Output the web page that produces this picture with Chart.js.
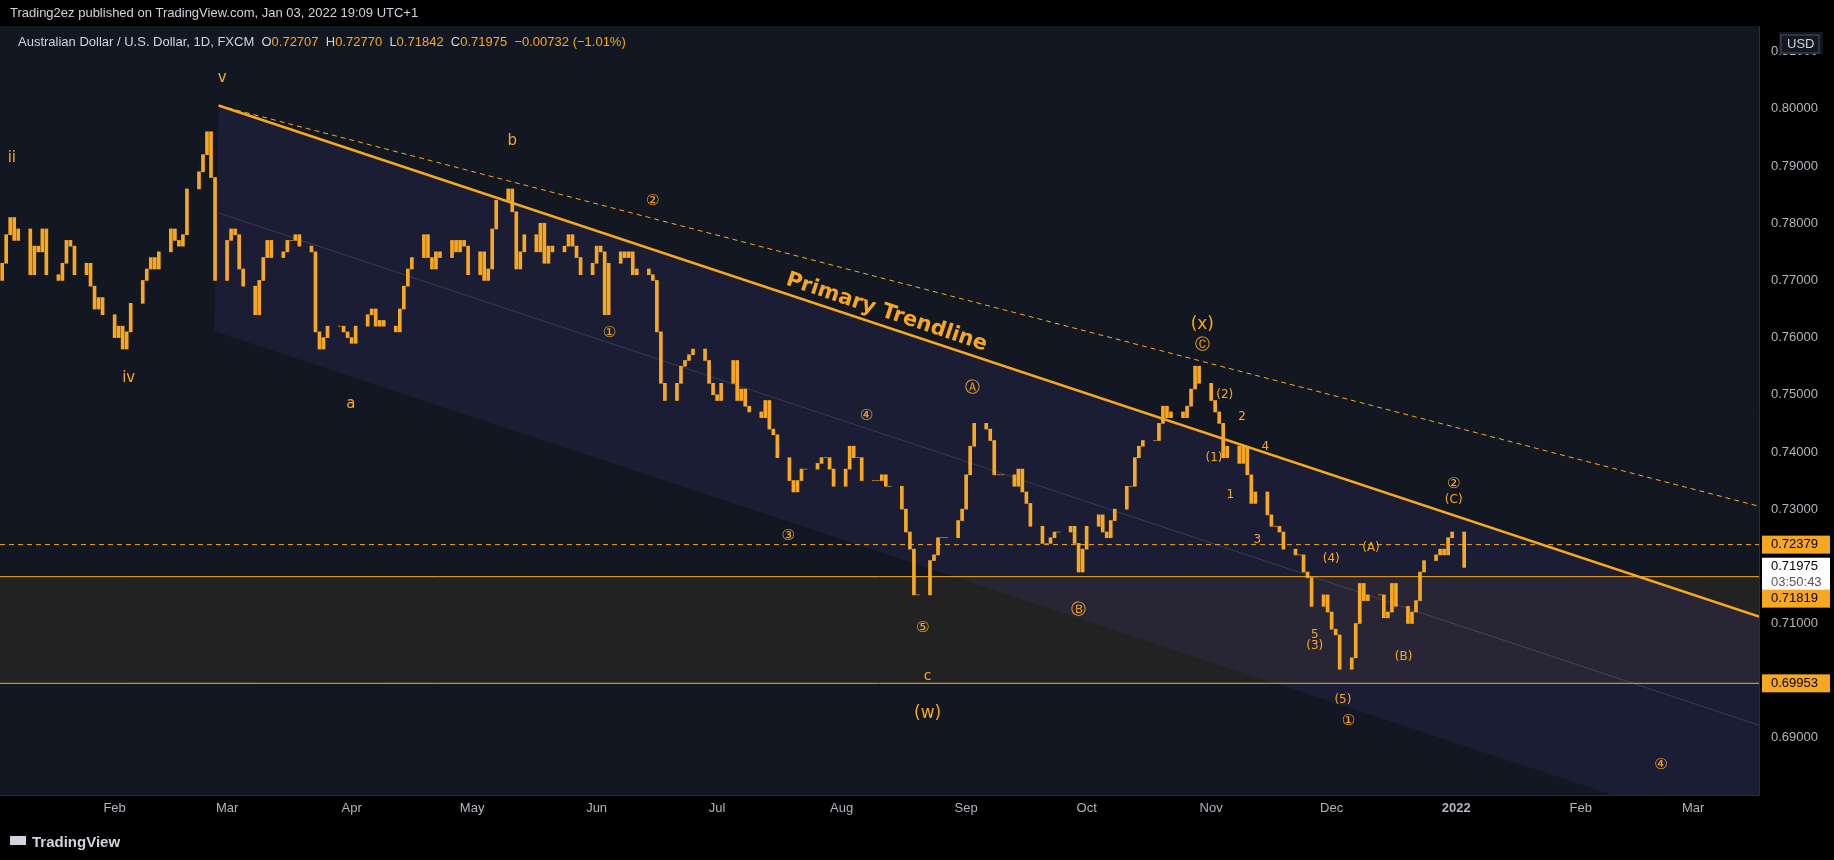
<!DOCTYPE html>
<html>
<head>
<meta charset="utf-8">
<script src="https://cdn.jsdelivr.net/npm/chart.js@4.4.1/dist/chart.umd.min.js"></script>
<style>
  html,body{margin:0;padding:0;background:#000;overflow:hidden}
  canvas{display:block}
</style>
</head>
<body>
<canvas id="myChart" width="1834" height="860"></canvas>
<script>
//---------- data: AUD/USD daily closes, Jan 4 2021 .. Jan 3 2022 (one row per week) ----------
const closes = [
  0.773,0.778,0.781,0.777,0.779, 0.771,0.776,0.775,0.779,0.771, 0.770,0.773,0.777,0.776,0.771,
  0.773,0.769,0.765,0.767,0.764, 0.760,0.762,0.758,0.761,0.766, 0.770,0.772,0.774,0.772,0.775,
  0.779,0.777,0.776,0.778,0.786, 0.789,0.792,0.796,0.788,0.770, 0.777,0.779,0.778,0.772,0.769,
  0.764,0.770,0.774,0.777,0.774, 0.775,0.777,0.777,0.778,0.776, 0.775,0.761,0.758,0.760,0.762,
  0.762,0.761,0.760,0.759,0.762, 0.764,0.765,0.762,0.763,0.762, 0.761,0.765,0.769,0.772,0.774,
  0.778,0.774,0.772,0.775,0.774, 0.777,0.775,0.777,0.776,0.771, 0.775,0.770,0.772,0.779,0.784,
  0.786,0.782,0.772,0.775,0.778, 0.775,0.780,0.773,0.776,0.775, 0.776,0.778,0.776,0.774,0.771,
  0.773,0.776,0.775,0.764,0.773, 0.775,0.774,0.775,0.771,0.772, 0.771,0.770,0.761,0.752,0.749,
  0.752,0.755,0.756,0.757,0.758, 0.756,0.752,0.750,0.749,0.752, 0.756,0.749,0.751,0.748,0.747,
  0.746,0.749,0.744,0.743,0.739, 0.735,0.733,0.735,0.737,0.737, 0.738,0.739,0.739,0.737,0.734,
  0.737,0.741,0.739,0.739,0.735, 0.735,0.735,0.736,0.734,0.734, 0.730,0.726,0.723,0.715,0.715,
  0.721,0.722,0.725,0.725,0.725, 0.728,0.730,0.736,0.741,0.745, 0.744,0.742,0.736,0.736,0.736,
  0.734,0.737,0.733,0.731,0.727, 0.724,0.724,0.725,0.726,0.726, 0.727,0.724,0.719,0.723,0.727,
  0.729,0.726,0.725,0.728,0.730, 0.734,0.734,0.739,0.741,0.742, 0.742,0.745,0.748,0.746,0.747,
  0.746,0.748,0.751,0.755,0.752, 0.749,0.747,0.745,0.739,0.741, 0.738,0.741,0.736,0.731,0.733,
  0.729,0.727,0.727,0.726,0.723, 0.722,0.722,0.719,0.718,0.713, 0.715,0.712,0.709,0.708,0.702,
  0.704,0.710,0.717,0.714,0.715, 0.715,0.711,0.712,0.717,0.713, 0.710,0.712,0.714,0.719,0.721,
  0.722,0.723,0.722,0.725,0.726, 0.7198
];
const firstOpen = 0.7700;

// x axis in days since Jan 1 2021
const monthTicks = [31,59,90,120,151,181,212,243,273,304,334,365,396,424];
const monthLabels = ['Feb','Mar','Apr','May','Jun','Jul','Aug','Sep','Oct','Nov','Dec','2022','Feb','Mar'];
const priceTicks = [0.68,0.69,0.70,0.71,0.72,0.73,0.74,0.75,0.76,0.77,0.78,0.79,0.80,0.81];

// drawn levels
const trendStart = [56.9, 0.8006], trendEnd = [440.4, 0.7112];
const dashedEnd = [440.4, 0.7305];
const channelBottom = [[55.8, 0.7611], [440.4, 0.6715]];
const medianLine = [[56.9, 0.7818], [440.4, 0.6922]];
const levelDashed = 0.72379, levelTop = 0.71819, levelBottom = 0.69953;

// wave labels: [day, price, text, fontSize]
const waveLabels = [
  [5.4,0.7914,'ii',15],[57.8,0.8053,'v',15],[34.5,0.7530,'iv',15],[89.8,0.7483,'a',15],
  [130.0,0.7943,'b',15],[165.0,0.7838,'②',15],[154.2,0.7607,'①',15],[198.7,0.7252,'③',15],
  [218.2,0.7462,'④',15],[244.5,0.7511,'Ⓐ',15],[232.2,0.7092,'⑤',15],[233.4,0.7008,'c',14],
  [233.4,0.6943,'(w)',17],[270.9,0.7123,'Ⓑ',15],[301.8,0.7622,'(x)',17],[301.8,0.7587,'Ⓒ',15],
  [307.4,0.7499,'(2)',12],[311.7,0.7462,'2',12],[317.5,0.7409,'4',12],[304.7,0.7389,'(1)',12],
  [308.8,0.7325,'1',12],[315.5,0.7247,'3',12],[333.9,0.7213,'(4)',12],[343.8,0.7233,'(A)',12],
  [329.8,0.7080,'5',12],[329.8,0.7061,'(3)',12],[351.9,0.7041,'(B)',12],[336.8,0.6967,'(5)',12],
  [338.2,0.6930,'①',15],[364.4,0.7344,'②',15],[364.4,0.7317,'(C)',12],[416.0,0.6853,'④',15]
];
//---------- End data ----------

const ORANGE = '#f7a823';
const DAY0 = Date.UTC(2021,0,1);

// trading days Mon-Fri starting Jan 4 2021
const candles = [];
let d = Date.UTC(2021,0,4), prev = firstOpen;
closes.forEach(c => {
  while ([0,6].includes(new Date(d).getUTCDay())) d += 86400000;
  candles.push({x: (d - DAY0) / 86400000, y: [prev, c]});
  prev = c;
  d += 86400000;
});

const overlay = {
  id: 'overlay',
  beforeDraw(chart) {
    const c = chart.ctx;
    c.save();
    c.fillStyle = '#000';
    c.fillRect(0, 0, chart.width, chart.height);
    const a = chart.chartArea;
    c.fillStyle = '#131722';
    c.fillRect(a.left, a.top, a.right - a.left, a.bottom - a.top);
    c.restore();
  },
  beforeDatasetsDraw(chart) {
    const c = chart.ctx, xs = chart.scales.x, ys = chart.scales.y, a = chart.chartArea;
    const X = v => xs.getPixelForValue(v), Y = v => ys.getPixelForValue(v);
    c.save();
    c.beginPath(); c.rect(a.left, a.top, a.right - a.left, a.bottom - a.top); c.clip();
    // zone between levels
    c.fillStyle = 'rgba(55,48,38,0.45)';
    c.fillRect(a.left, Y(levelTop), a.right - a.left, Y(levelBottom) - Y(levelTop));
    // channel
    c.fillStyle = 'rgba(70,60,150,0.16)';
    c.beginPath();
    c.moveTo(X(trendStart[0]), Y(trendStart[1]));
    c.lineTo(X(trendEnd[0]), Y(trendEnd[1]));
    c.lineTo(X(channelBottom[1][0]), Y(channelBottom[1][1]));
    c.lineTo(X(channelBottom[0][0]), Y(channelBottom[0][1]));
    c.closePath(); c.fill();
    // median
    c.strokeStyle = 'rgba(150,140,200,0.25)'; c.lineWidth = 1;
    c.beginPath();
    c.moveTo(X(medianLine[0][0]), Y(medianLine[0][1]));
    c.lineTo(X(medianLine[1][0]), Y(medianLine[1][1]));
    c.stroke();
    c.restore();
  },
  afterDatasetsDraw(chart) {
    const c = chart.ctx, xs = chart.scales.x, ys = chart.scales.y, a = chart.chartArea;
    const X = v => xs.getPixelForValue(v), Y = v => ys.getPixelForValue(v);
    c.save();
    c.beginPath(); c.rect(a.left, a.top, a.right - a.left, a.bottom - a.top); c.clip();
    // horizontal levels
    c.strokeStyle = ORANGE; c.lineWidth = 1;
    [levelTop, levelBottom].forEach(p => {
      c.beginPath(); c.moveTo(a.left, Y(p)); c.lineTo(a.right, Y(p)); c.stroke();
    });
    c.setLineDash([5,4]);
    c.beginPath(); c.moveTo(a.left, Y(levelDashed)); c.lineTo(a.right, Y(levelDashed)); c.stroke();
    // dashed parallel
    c.beginPath(); c.moveTo(X(trendStart[0]), Y(trendStart[1])); c.lineTo(X(dashedEnd[0]), Y(dashedEnd[1])); c.stroke();
    c.setLineDash([]);
    // primary trendline
    c.lineWidth = 2.5;
    c.beginPath(); c.moveTo(X(trendStart[0]), Y(trendStart[1])); c.lineTo(X(trendEnd[0]), Y(trendEnd[1])); c.stroke();
    // trendline text
    const ang = Math.atan2(Y(trendEnd[1]) - Y(trendStart[1]), X(trendEnd[0]) - X(trendStart[0]));
    c.save();
    c.translate(X(223.2), Y(0.7644)); c.rotate(ang);
    c.fillStyle = ORANGE; c.font = 'bold 21px "DejaVu Sans"'; c.textAlign = 'center'; c.textBaseline = 'middle';
    c.fillText('Primary Trendline', 0, 0);
    c.restore();
    // wave labels
    c.fillStyle = ORANGE; c.textAlign = 'center'; c.textBaseline = 'middle';
    waveLabels.forEach(([dd, p, t, s]) => {
      c.font = s + 'px "DejaVu Sans"';
      c.fillText(t, X(dd), Y(p));
    });
    c.restore();

    // ----- axes -----
    c.save();
    c.strokeStyle = '#2a2e39'; c.lineWidth = 1;
    c.beginPath(); c.moveTo(a.right + 0.5, a.top); c.lineTo(a.right + 0.5, a.bottom); c.stroke();
    c.beginPath(); c.moveTo(a.left, a.bottom + 0.5); c.lineTo(a.right, a.bottom + 0.5); c.stroke();
    c.font = '13px "Liberation Sans"'; c.fillStyle = '#b2b5be'; c.textBaseline = 'middle';
    c.textAlign = 'left';
    priceTicks.forEach(p => {
      const y = Y(p);
      if (y > a.top + 8 && y < a.bottom) c.fillText(p.toFixed(5), a.right + 12, y);
    });
    c.textAlign = 'center';
    monthTicks.forEach((m, i) => {
      c.font = (monthLabels[i] === '2022' ? 'bold ' : '') + '13px "Liberation Sans"';
      c.fillText(monthLabels[i], X(m), a.bottom + 13);
    });
    // price tags
    const tag = (p, txt, bg, fg, y2) => {
      const y = Y(p) + (y2 || 0);
      c.fillStyle = bg; c.fillRect(a.right + 3, y - 9, 68, 18);
      c.fillStyle = fg; c.font = '13px "Liberation Sans"'; c.textAlign = 'left';
      c.fillText(txt, a.right + 12, y);
    };
    tag(levelDashed, levelDashed.toFixed(5), ORANGE, '#000');
    c.fillStyle = '#fff'; c.fillRect(a.right + 3, Y(0.71975) - 10, 68, 34);
    c.fillStyle = '#000'; c.font = '13px "Liberation Sans"';
    c.fillText('0.71975', a.right + 12, Y(0.71975) - 1);
    c.fillStyle = '#555'; c.fillText('03:50:43', a.right + 12, Y(0.71975) + 15);
    tag(levelTop, levelTop.toFixed(5), ORANGE, '#000', 22);
    tag(levelBottom, levelBottom.toFixed(5), ORANGE, '#000');
    // USD box
    c.fillStyle = '#131722'; c.fillRect(a.right + 20, 32, 44, 22);
    c.strokeStyle = '#50535e'; c.strokeRect(a.right + 22, 35, 38, 18);
    c.fillStyle = '#d1d4dc'; c.fillText('USD', a.right + 28, 44);
    // header
    c.font = '13px "Liberation Sans"'; c.fillStyle = '#d1d4dc';
    c.fillText('Trading2ez published on TradingView.com, Jan 03, 2022 19:09 UTC+1', 10, 13);
    let x = 18;
    const part = (t, col) => { c.fillStyle = col; c.fillText(t, x, 42); x += c.measureText(t).width; };
    part('Australian Dollar / U.S. Dollar, 1D, FXCM  ', '#d1d4dc');
    part('O', '#d1d4dc'); part('0.72707  ', ORANGE);
    part('H', '#d1d4dc'); part('0.72770  ', ORANGE);
    part('L', '#d1d4dc'); part('0.71842  ', ORANGE);
    part('C', '#d1d4dc'); part('0.71975  −0.00732 (−1.01%)', ORANGE);
    // footer
    c.font = 'bold 15px "Liberation Sans"'; c.fillStyle = '#d1d4dc';
    c.fillText('TradingView', 32, 843);
    c.fillRect(10, 836, 16, 9);
    c.restore();
  }
};

const ctx = document.getElementById('myChart');
const chart = new Chart(ctx, {
  type: 'bar',
  data: {
    datasets: [{
      data: candles,
      backgroundColor: ORANGE,
      borderColor: ORANGE,
      borderWidth: 0,
      barThickness: 3,
      borderSkipped: false
    }]
  },
  options: {
    responsive: false,
    animation: false,
    devicePixelRatio: 1,
    layout: { padding: { left: 0, top: 26, right: 75, bottom: 65 } },
    plugins: { legend: { display: false }, tooltip: { enabled: false } },
    scales: {
      x: { type: 'linear', offset: false, min: 2.46, max: 440.4, display: false, grid: { display: false } },
      y: { min: 0.68, max: 0.8145, display: false, grid: { display: false } }
    }
  },
  plugins: [overlay]
});
</script>
</body>
</html>
